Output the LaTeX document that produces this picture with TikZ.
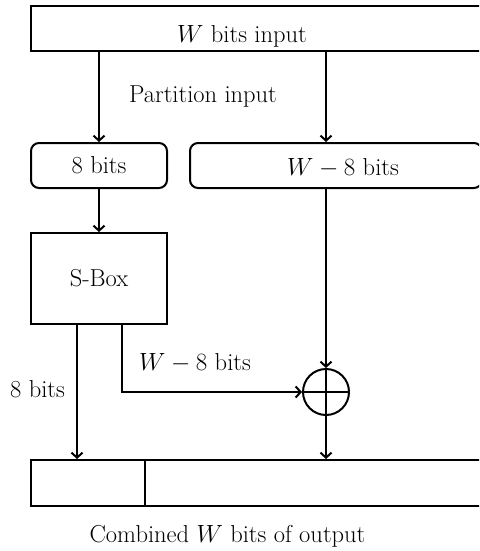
\documentclass[tikz,border=0pt]{standalone}
\usetikzlibrary{arrows.meta}
\tikzset{
  blk/.style={draw, line width=2pt, inner sep=0pt},
  rblk/.style={blk, rounded corners=8pt},
  lbl/.style={anchor=base, inner sep=0pt},
  wire/.style={line width=2pt},
  arr/.style={wire, -{Straight Barb[length=5pt,width=11pt]}},
}
\begin{document}
\begin{tikzpicture}[x=1pt,y=-1pt,font=\fontsize{24.5}{29}\selectfont]
\useasboundingbox (0,0) rectangle (479,551);
\clip (0,0) rectangle (479,551);
% blocks
\node[blk, minimum width=454pt, minimum height=45pt] (input) at (258,28.5) {};
\node[rblk, minimum width=136pt, minimum height=45pt] (bits8) at (99,165.5) {8 bits};
\node[rblk, minimum width=292pt, minimum height=45pt] (wbits) at (336,165.5) {};
\node[blk, minimum width=136pt, minimum height=91pt] (sbox) at (99,278.5) {S-Box};
\node[blk, circle, minimum size=46pt] (xor) at (326,392) {};
\node[blk, minimum width=114pt, minimum height=46pt] (outL) at (88,483) {};
\node[blk, minimum width=340pt, minimum height=46pt] (outR) at (315,483) {};
% labels
\node[lbl] at (242,42) {$W$ bits input};
\node[lbl] at (343,175) {$W-8$ bits};
\node[lbl] at (203,102) {Partition input};
\node[lbl] at (195,370) {$W-8$ bits};
\node[lbl] at (37.5,397) {8 bits};
\node[lbl] at (227.5,542) {Combined $W$ bits of output};
% wires
\coordinate (tapA) at ([xshift=-22pt]sbox.south);
\coordinate (tapB) at ([xshift=23pt]sbox.south);
\draw[arr] (input.south -| bits8.north) -- (bits8.north);
\draw[arr] (input.south -| xor.north) -- (wbits.north -| xor.north);
\draw[arr] (bits8.south) -- (sbox.north);
\draw[arr] (wbits.south -| xor.north) -- (xor.north);
\draw[arr] (tapA) -- (tapA |- outL.north);
\draw[arr] (tapB) |- (xor.west);
\draw[arr] (xor.south) -- (outR.north -| xor.south);
\draw[wire] (xor.north) -- (xor.south)
            (xor.west) -- (xor.east);
\end{tikzpicture}
\end{document}
